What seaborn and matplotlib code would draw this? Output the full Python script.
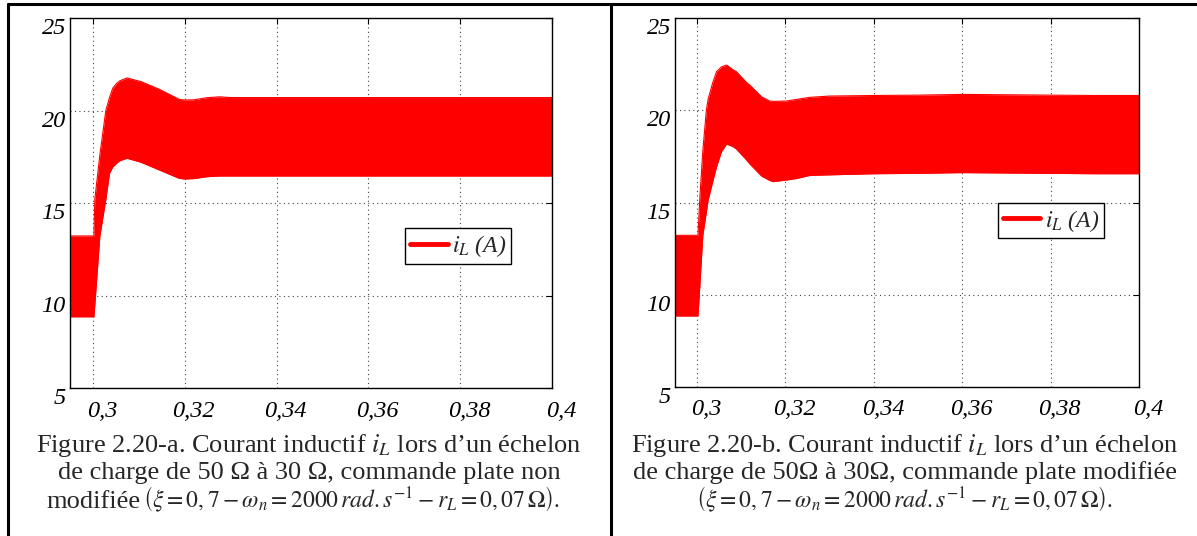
import numpy as np
import matplotlib
matplotlib.use("Agg")
import matplotlib.pyplot as plt
import matplotlib.transforms as mtransforms
from matplotlib.lines import Line2D
import seaborn as sns

# envelope of the switching ripple on i_L
t_a = [0.295, 0.3002, 0.3004, 0.3015, 0.3028, 0.3036, 0.3043, 0.3051, 0.3058, 0.3074,
       0.3105, 0.3145, 0.3188, 0.3199, 0.322, 0.3247, 0.3275, 0.33, 0.35, 0.37, 0.4]
upper_a = [13.22, 13.22, 15.2, 17.6, 20.0, 20.7, 21.2, 21.45, 21.6, 21.76,
           21.56, 21.14, 20.6, 20.57, 20.58, 20.69, 20.74, 20.7, 20.7, 20.7, 20.7]
lower_a = [8.85, 8.85, 9.5, 13.22, 15.2, 16.6, 16.95, 17.14, 17.28, 17.42,
           17.2, 16.78, 16.33, 16.3, 16.32, 16.42, 16.46, 16.46, 16.46, 16.46, 16.46]

t_b = [0.295, 0.3002, 0.3006, 0.3013, 0.3021, 0.3025, 0.3035, 0.3044, 0.3055, 0.3067,
       0.3081, 0.3089, 0.3112, 0.3119, 0.3146, 0.3164, 0.3172, 0.3202, 0.3225, 0.3255,
       0.33, 0.34, 0.35, 0.36, 0.37, 0.38, 0.39, 0.4]
upper_b = [13.22, 13.22, 15.14, 17.8, 20.0, 20.6, 21.46, 22.09, 22.35, 22.45,
           22.2, 22.09, 21.5, 21.37, 20.73, 20.5, 20.48, 20.5, 20.59, 20.7,
           20.77, 20.8, 20.82, 20.86, 20.84, 20.82, 20.8, 20.8]
lower_b = [8.85, 8.85, 10.4, 13.22, 14.5, 15.14, 16.1, 16.94, 17.75, 18.17,
           18.03, 17.9, 17.3, 17.1, 16.43, 16.2, 16.13, 16.22, 16.3, 16.47,
           16.5, 16.56, 16.58, 16.62, 16.6, 16.58, 16.56, 16.56]

x_ticks = [0.3, 0.32, 0.34, 0.36, 0.38, 0.4]
x_labels = ["0,3", "0,32", "0,34", "0,36", "0,38", "0,4"]
y_ticks = [5, 10, 15, 20, 25]
y_labels = ["5", "10", "15", "20", "25"]

legend_label = r"$i_L$ (A)"

formula = r"$\left(\xi = 0,7 - \omega_n = 2000\,rad.s^{-1} - r_L = 0,07\,\Omega\right)$."
captions_a = [r"Figure 2.20-a. Courant inductif $i_L$ lors d’un échelon",
              "de charge de 50 Ω à 30 Ω, commande plate non"]
captions_b = [r"Figure 2.20-b. Courant inductif $i_L$ lors d’un échelon",
              "de charge de 50Ω à 30Ω, commande plate modifiée"]

sns.set_style("white")
plt.rcParams['font.family'] = ['Liberation Serif', 'DejaVu Serif']
plt.rcParams['mathtext.fontset'] = 'stix'

fig = plt.figure(figsize=(11.97, 5.36), dpi=100)
ax_a = fig.add_axes([0.0585, 0.2761, 0.4027, 0.6903])
ax_b = fig.add_axes([0.5639, 0.2780, 0.3876, 0.6884])


def draw_panel(ax, t, up, lo, leg_anchor):
    sns.lineplot(x=t, y=up, ax=ax, color='red', linewidth=0.8)
    sns.lineplot(x=t, y=lo, ax=ax, color='red', linewidth=0.8)
    ax.fill_between(t, lo, up, color='red', linewidth=0)
    ax.set_xlim(0.295, 0.4)
    ax.set_ylim(5, 25)
    ax.set_xticks(x_ticks)
    ax.set_xticklabels(x_labels, fontstyle='italic', fontsize=17.5)
    ax.set_yticks(y_ticks)
    ax.set_yticklabels(y_labels, fontstyle='italic', fontsize=17.5, va='top')
    ax.grid(True, linestyle=(0, (1, 3)), color='#444444', linewidth=0.8)
    ax.tick_params(direction='in', length=4, top=True, right=True, colors='black')
    ax.tick_params(axis='x', pad=9)
    ax.tick_params(axis='y', pad=3)
    shift = mtransforms.ScaledTranslation(9 / 100, 0, fig.dpi_scale_trans)
    for lbl in ax.get_xticklabels():
        lbl.set_transform(lbl.get_transform() + shift)
    for sp in ax.spines.values():
        sp.set_visible(True)
        sp.set_color('black')
        sp.set_linewidth(1)
    ax.set_xlabel('')
    ax.set_ylabel('')
    handle = Line2D([0], [0], color='red', linewidth=3.5)
    leg = ax.legend([handle], [legend_label], loc='upper left', bbox_to_anchor=leg_anchor,
                    borderaxespad=0, prop={'size': 17, 'style': 'italic'},
                    handlelength=1.6, handletextpad=0.2,
                    borderpad=0.2, fancybox=False, framealpha=1, edgecolor='black')
    leg.get_frame().set_linewidth(1)


draw_panel(ax_a, t_a, upper_a, lower_a, (0.695, 0.432))
draw_panel(ax_b, t_b, upper_b, lower_b, (0.696, 0.4986))

# captions under each plot
cap_y = [0.1567, 0.1063]
for txt, y in zip(captions_a, cap_y):
    fig.text(0.258, y, txt, ha='center', va='baseline', fontsize=19)
for txt, y in zip(captions_b, cap_y):
    fig.text(0.756, y, txt, ha='center', va='baseline', fontsize=19)
# third line: word in body size, formula slightly smaller
fig.text(0.1170, 0.053, "modifiée", ha='right', va='baseline', fontsize=19)
fig.text(0.1195, 0.053, formula, ha='left', va='baseline', fontsize=17)
fig.text(0.756, 0.053, formula, ha='center', va='baseline', fontsize=17)

# table borders
lw = 2.2
fig.add_artist(Line2D([8 / 1197, 1], [1 - 4 / 536, 1 - 4 / 536], color='black', linewidth=lw,
                      transform=fig.transFigure))
fig.add_artist(Line2D([8 / 1197, 8 / 1197], [0, 1 - 4 / 536], color='black', linewidth=lw,
                      transform=fig.transFigure))
fig.add_artist(Line2D([611 / 1197, 611 / 1197], [0, 1 - 4 / 536], color='black', linewidth=lw,
                      transform=fig.transFigure))

fig.savefig("out.png", dpi=100)
